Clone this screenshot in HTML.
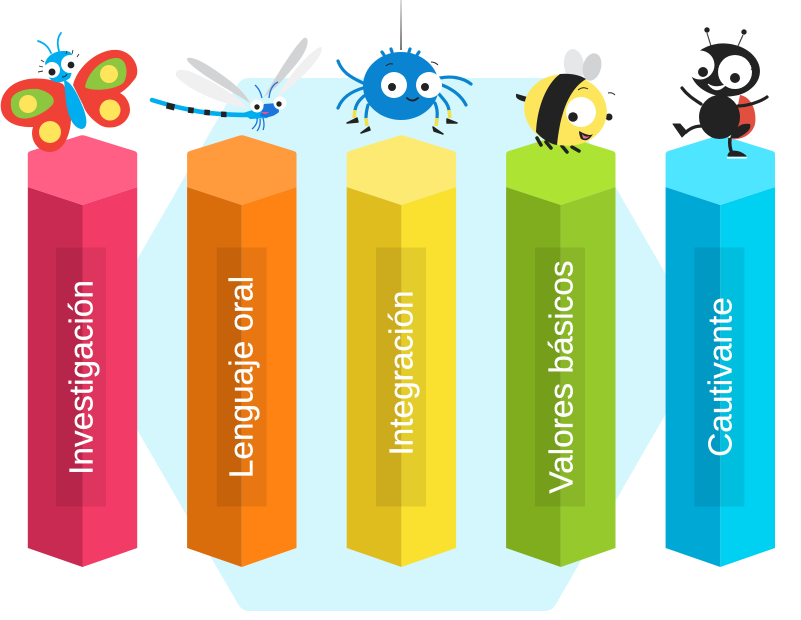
<!DOCTYPE html>
<html><head><meta charset="utf-8"><style>html,body{margin:0;padding:0;background:#fff}svg{display:block}text{font-family:"Liberation Sans",sans-serif;font-size:33.4px;fill:#fff;stroke:#fff;stroke-width:.25;text-anchor:middle}</style></head><body>
<svg width="801" height="620" viewBox="0 0 801 620" xmlns="http://www.w3.org/2000/svg">
<defs>
<linearGradient id="th" x1="0" y1="0" x2="0" y2="1"><stop offset="0" stop-color="#ddd"/><stop offset="1" stop-color="#777"/></linearGradient>
<path id="lf" d="M-54.700,187L0,205V567L-54.700,548Z"/>
<path id="rt" d="M54.700,187L0,205V567L54.700,548Z"/>
<path id="cp" d="M-54.700,154Q-54.700,152 -52,151L-2,135.500Q0,135 2,135.500L52,151Q54.700,152 54.700,154V187L0,205L-54.700,187Z"/>
</defs>
<path d="M249,78H545Q552,78 556,84L706,344L556,604Q552,611 545,611H249Q242,611 238,604L88,345L238,84Q242,78 249,78Z" fill="#d4f6fd"/>

<!-- Columns -->
<g transform="translate(82.500 0)"><use href="#lf" fill="#c92a52"/><use href="#rt" fill="#f23b67"/><use href="#cp" fill="#ff5e85"/></g>
<g transform="translate(241.800 0)"><use href="#lf" fill="#d96d0c"/><use href="#rt" fill="#ff8313"/><use href="#cp" fill="#ff9a3d"/></g>
<g transform="translate(401.400 0)"><use href="#lf" fill="#e0bd1f"/><use href="#rt" fill="#fae12f"/><use href="#cp" fill="#fdea72"/></g>
<g transform="translate(560.800 0)"><use href="#lf" fill="#80ad1d"/><use href="#rt" fill="#96c92b"/><use href="#cp" fill="#ade333"/></g>
<g transform="translate(720.300 0)"><use href="#lf" fill="#00a8d6"/><use href="#rt" fill="#00d0f2"/><use href="#cp" fill="#4de5ff"/></g>

<g fill="#000" fill-opacity=".085">
<rect x="56" y="247.500" width="50" height="259"/><rect x="216.700" y="247.500" width="50" height="259"/><rect x="376" y="247.500" width="50" height="259"/><rect x="535" y="247.500" width="50" height="259"/><rect x="694.300" y="247.500" width="50" height="259"/>
</g>

<text transform="translate(92.300 377.500) rotate(-90)">Investigación</text>
<text transform="translate(252.300 377) rotate(-90)">Lenguaje oral</text>
<text transform="translate(412.300 373) rotate(-90)">Integración</text>
<text transform="translate(572.300 377) rotate(-90)">Valores básicos</text>
<text transform="translate(731.700 377) rotate(-90)">Cautivante</text>

<!-- Butterfly -->
<g>
<path d="M73,85C78,65 100,48 118,50C135,52 142,72 134,80C128,88 122,92 120,93C128,97 132,108 129,115C124,128 108,130 100,125C92,120 85,112 83,105Z" fill="#ef4136"/>
<path d="M63,84C45,76 12,74 2,98C-4,118 12,128 33,127C29,140 38,152 50,152C62,152 70,138 71,120C72,105 68,92 63,84Z" fill="#ef4136"/>
<path d="M85,87C88,70 105,57 118,58C128,60 128,75 124,82C118,90 90,92 85,87Z" fill="#8dc63f"/>
<path d="M11,100C13,92 25,88 38,89C50,92 56,98 53,104C47,112 30,121 20,118C13,116 10,110 11,100Z" fill="#8dc63f"/>
<circle cx="109" cy="74" r="9" fill="#ffe55c"/><circle cx="110" cy="110" r="10.500" fill="#ffe55c"/><circle cx="28" cy="104" r="9" fill="#ffe55c"/><circle cx="50" cy="132" r="11" fill="#ffe55c"/>
<path d="M64,80C72,82 78,95 84,110C88,122 87,129 81,129C72,127 68,115 66,102Z" fill="#00aeef"/>
<path d="M45,63C48,53 60,49 70,52L76,60L70,78C62,84 52,84 48,76Z" fill="#00aeef"/>
<path d="M51,53C48,46 44,43 38,41M59,51C57,44 57,38 61,33" fill="none" stroke="#00aeef" stroke-width="1.800" stroke-linecap="round"/>
<circle cx="70" cy="64" r="9" fill="#fff"/><circle cx="52" cy="70" r="8" fill="#fff"/><circle cx="71" cy="65" r="3.400" fill="#222"/><circle cx="52" cy="72" r="3.500" fill="#222"/>
<path d="M62,77Q66,77 67,74" fill="none" stroke="#222"/>
<path d="M66,54L67,51M72,54L73,50M77,57L79,54M44,62L41,60M43,67L39,66M43,71L38,72" stroke="#333" stroke-width=".9"/>
</g>

<!-- Dragonfly -->
<g>
<path d="M247,108C225,105 190,92 176,76C174,68 184,68 198,75C218,84 240,98 247,108Z" fill="#f0f0f0"/>
<path d="M276,98C288,78 305,55 320,47C324,46 322,55 312,66C300,80 285,92 276,98Z" fill="#f0f0f0"/>
<path d="M250,103C230,90 195,72 187,60C186,56 195,56 215,70C230,80 245,92 250,103Z" fill="#d1d3d4"/>
<path d="M264,97C275,78 295,45 304,38C310,36 309,48 298,62C285,78 272,92 264,97Z" fill="#d1d3d4"/>
<path d="M152,100C165,104 180,108 191,110C205,113 225,115 250,115" fill="none" stroke="#00aeef" stroke-width="4.500" stroke-linecap="round"/>
<path d="M167,102.500l8,1.800l-1,6.200l-8,-2zM188.500,107l5.500,.8l-.7,5.700l-5.500,-.8zM204.500,109.500l5.500,.5l-.3,5.500l-5.500,-.5zM221,111.500l5.500,.3v5.500l-5.500,-.3z" fill="#222"/>
<path d="M243,113L262,107L268,118L250,119Z" fill="#00aeef"/>
<path d="M264,104L278,103L279,112C272,118 265,118 260,116Z" fill="#1c75dc"/>
<path d="M257,118Q258,124 252,129M260,119Q261,126 257,131M263,118Q265,125 263,130" fill="none" stroke="#1c75dc" stroke-width="1.300"/>
<path d="M262,98C260,90 258,88 255,85M269,98C270,90 272,85 278,82" fill="none" stroke="#1c75dc" stroke-width="1.300"/>
<circle cx="257" cy="106" r="6.500" fill="#fff"/><circle cx="280" cy="103" r="6.500" fill="#fff"/><circle cx="257" cy="107" r="2.700" fill="#222"/><circle cx="279" cy="104" r="2.700" fill="#222"/>
<path d="M261,112Q265,116 269,112Z" fill="#e8558b"/>
</g>

<!-- Spider -->
<g>
<rect x="400" y="0" width="2" height="50" fill="url(#th)"/>
<g fill="none" stroke="#0a84d0" stroke-width="3.200" stroke-linecap="round">
<path d="M363,83C350,77 342,72 338,61"/><path d="M363,88C350,92 342,98 338,108"/><path d="M364,96C358,101 356,105 355,110"/><path d="M368,105Q366,112 366,118"/>
<path d="M440,78C450,76 462,77 471,84"/><path d="M442,85C452,89 461,95 466,105"/><path d="M439,94C445,101 448,104 449,110"/><path d="M435,103Q438,110 437,118"/>
<path d="M384,55L382,52M392,52L391,49M409,52L410,49M417,55L419,52"/>
</g>
<path d="M355,110l-1,8M366,118l1,8M449,110l1,8M437,118l-1,8" stroke="#f2e04a" stroke-width="3.500" fill="none"/>
<path d="M347,123L357,118L358,122Z M361,133L369,127L370,130Z M447,119L457,123L447,123Z M433,127L443,134L434,131Z" fill="#222" stroke="#222" stroke-width="1.500" stroke-linejoin="round"/>
<ellipse cx="401" cy="86" rx="38" ry="34" fill="#0a84d0"/>
<circle cx="394" cy="85" r="13" fill="#fff"/><circle cx="429" cy="85" r="13" fill="#fff"/><circle cx="392" cy="87" r="4" fill="#222"/><circle cx="425" cy="87" r="4" fill="#222"/>
<path d="M407,98Q412,103 418,98" fill="none" stroke="#222" stroke-width="1.800" stroke-linecap="round"/>
<path d="M386,66Q389,63 393,64M431,62Q435,62 438,65" fill="none" stroke="#222" stroke-width="1"/>
</g>

<!-- Bee -->
<g>
<ellipse cx="574" cy="65" rx="10" ry="16" transform="rotate(-8 574 65)" fill="#e6e7e8"/>
<ellipse cx="592" cy="67" rx="9" ry="14" transform="rotate(15 592 67)" fill="#d1d3d4"/>
<path d="M527,98L517,95Q516,99 527,101Z" fill="#222" stroke="#222" stroke-width="2"/>
<circle cx="609" cy="117" r="3.500" fill="#222"/>
<path d="M537,138l4,7M546,142l5,6M562,146l5,6M572,147l7,4" stroke="#222" stroke-width="3.500" stroke-linecap="round"/>
<ellipse cx="565.500" cy="110" rx="41.500" ry="35.500" transform="rotate(10 565.500 110)" fill="#fde65b"/>
<path d="M560,74C570,73 580,75 586,79C568,90 560,115 557,145C550,144 542,139 536,132C537,110 545,85 560,74Z" fill="#222"/>
<circle cx="581" cy="112" r="15" fill="#fff"/><circle cx="573" cy="117" r="4.800" fill="#222"/>
<path d="M579,131Q590,137 593,134Q588,143 581,139Q579,135 579,131Z" fill="#222"/><path d="M582,134Q586,138 590,136Q586,140 583,138Z" fill="#ef6ca3"/>
<path d="M578,90Q583,86 588,89M608,93Q612,92 615,95" fill="none" stroke="#222" stroke-width="1"/>
</g>

<!-- Ladybug -->
<g>
<path d="M740,95C752,97 757,112 755,124C752,135 742,140 731,139Z" fill="#e04f3f"/>
<path d="M738,138C745,134 752,130 750,124C740,122 733,130 730,138Z" fill="#222"/>
<path d="M711,46L707,33M738,46L743,35" stroke="#444" stroke-width="1.200"/><circle cx="707" cy="30" r="2.700" fill="#222"/><circle cx="744" cy="32" r="2.700" fill="#222"/>
<ellipse cx="725" cy="70" rx="35" ry="26.500" fill="#222" transform="rotate(5 725 70)"/>
<ellipse cx="719.500" cy="117" rx="20.500" ry="22" fill="#222"/>
<path d="M701,104C695,100 688,96 682,88M738,106C747,106 760,102 767,97" fill="none" stroke="#222" stroke-width="3.200" stroke-linecap="round"/>
<path d="M702,126C695,126 690,128 685,133" fill="none" stroke="#222" stroke-width="3.200"/>
<path d="M673,124L680,124L687,132L682,137Z" fill="#222" stroke="#222" stroke-linejoin="round"/>
<path d="M730,138Q729,147 732,153" fill="none" stroke="#222" stroke-width="3.500"/>
<path d="M728,156C728,150 738,149 746,156Z" fill="#222" stroke="#222" stroke-linejoin="round"/>
<rect x="727" y="157" width="20" height="1.500" fill="#fff"/>
<circle cx="700" cy="65" r="14.500" fill="#fff"/><circle cx="735" cy="72" r="17" fill="#fff"/><circle cx="703" cy="72" r="5" fill="#222"/><circle cx="735" cy="78" r="5" fill="#222"/>
<path d="M708,84Q715,93 722,88Q727,84 725,85Q715,89 708,84Z" fill="#fff" stroke="#fff"/>
<path d="M748,59l4,3M750,64l4,2M751,69l4,2" stroke="#222" stroke-width="1"/>
</g>
</svg>
</body></html>
